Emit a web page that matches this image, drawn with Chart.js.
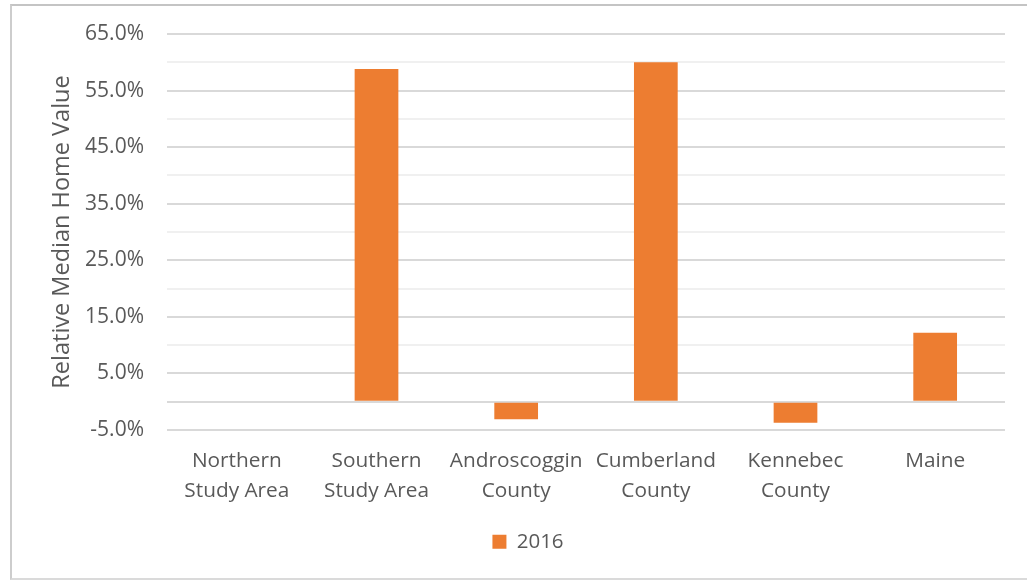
<!DOCTYPE html>
<html>
<head>
<meta charset="utf-8">
<script src="https://cdn.jsdelivr.net/npm/chart.js@4/dist/chart.umd.min.js"></script>
<style>
  html, body { margin: 0; padding: 0; background: #fff; width: 1027px; height: 580px; overflow: hidden; }
  #frame {
    position: absolute; left: 10px; top: 4px;
    width: 1032px; height: 572px;
    border-left: 2px solid #cdcdcd; border-top: 2px solid #c4c4c4; border-bottom: 2px solid #dadada;
  }
  canvas { display: block; }
</style>
</head>
<body>
<div id="frame"><canvas id="chart" width="1032" height="572"></canvas></div>
<script>
// Relative median home value, 2016
const categories = [
    ['Northern', 'Study Area'],
    ['Southern', 'Study Area'],
    ['Androscoggin', 'County'],
    ['Cumberland', 'County'],
    ['Kennebec', 'County'],
    ['Maine']
];
const values2016 = [null, 58.8, -3.1, 60.0, -3.7, 12.2];
const seriesName = '2016';
const yMin = -5, yMax = 65, yStep = 5;

const TEXT = '#595959';
const ORANGE = '#ED7D31';
const FONT = "'Open Sans', sans-serif";

// labelled ticks sit on odd multiples of 5 (65, 55, ... -5)
const isMajor = v => Math.round(v - yMin) % 10 === 0;

const ctx = document.getElementById('chart').getContext('2d');
new Chart(ctx, {
    type: 'bar',
    data: {
        labels: categories,
        datasets: [{
            label: seriesName,
            data: values2016,
            backgroundColor: ORANGE,
            borderWidth: 0,
            categoryPercentage: 1,
            barPercentage: 0.313
        }]
    },
    options: {
        responsive: false,
        animation: false,
        // equal side padding keeps the legend centred on the frame
        layout: { padding: { top: 28, right: 39, bottom: 16, left: 39 } },
        plugins: {
            legend: {
                position: 'bottom',
                labels: {
                    boxWidth: 14, boxHeight: 14, padding: 10,
                    color: TEXT,
                    font: { family: FONT, size: 20.5 }
                }
            },
            tooltip: { enabled: false }
        },
        scales: {
            x: {
                grid: { display: false, drawTicks: false },
                border: { display: false },
                ticks: {
                    color: TEXT,
                    padding: 16,
                    maxRotation: 0,
                    autoSkip: false,
                    font: { family: FONT, size: 20.8, lineHeight: 1.44 }
                },
                afterFit: s => { s.height = 91.5; }
            },
            y: {
                min: yMin, max: yMax,
                border: { display: false },
                grid: {
                    drawTicks: false,
                    lineWidth: 2,
                    color: c => (isMajor(c.tick.value) || c.tick.value === 0) ? '#d9d9d9' : '#f0f0f0'
                },
                ticks: {
                    stepSize: yStep,
                    color: TEXT,
                    padding: 23,
                    font: { family: FONT, size: 21 },
                    callback: v => isMajor(v) ? v.toFixed(1) + '%' : ''
                },
                title: {
                    display: true,
                    text: 'Relative Median Home Value',
                    color: TEXT,
                    padding: { top: 1.5, bottom: 0 },
                    font: { family: FONT, size: 23.5, lineHeight: 0.8 }
                },
                afterFit: s => {
                    s.width = 116;
                    // let layout.padding alone set the plot top
                    s.paddingTop = 0;
                    s.paddingBottom = 0;
                }
            }
        }
    }
});
</script>
</body>
</html>
